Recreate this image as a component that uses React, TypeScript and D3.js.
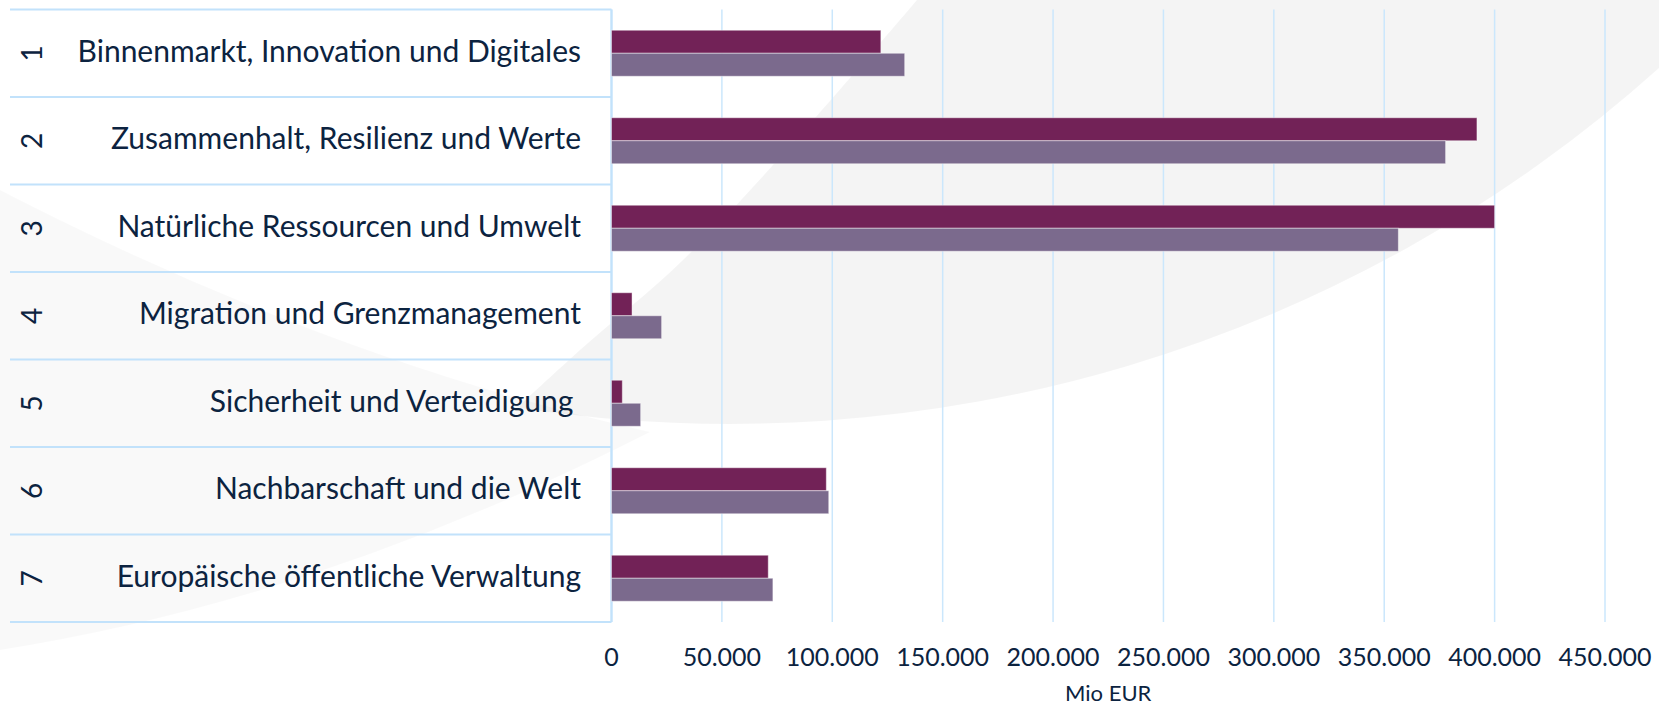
import React from "react";
import * as d3 from "d3";

// ---- data ----
const categories = [
  "Binnenmarkt, Innovation und Digitales",
  "Zusammenhalt, Resilienz und Werte",
  "Natürliche Ressourcen und Umwelt",
  "Migration und Grenzmanagement",
  "Sicherheit und Verteidigung ",
  "Nachbarschaft und die Welt",
  "Europäische öffentliche Verwaltung",
];
const headingNumbers = ["1", "2", "3", "4", "5", "6", "7"];
const seriesDark = [122000, 392000, 400000, 9300, 4900, 97300, 71000];
const seriesLight = [132800, 377800, 356400, 22700, 13200, 98400, 73100];
const xTicks = [0, 50000, 100000, 150000, 200000, 250000, 300000, 350000, 400000, 450000];
const xTickLabels = ["0", "50.000", "100.000", "150.000", "200.000", "250.000", "300.000", "350.000", "400.000", "450.000"];
const axisTitle = "Mio EUR";
const seriesKeys = ["dark", "light"];

// ---- layout / style ----
const W = 1659;
const H = 707;
const plotLeft = 611.5;
const plotRight = 1605;
const plotTop = 9.5;
const plotBottom = 622;
const tableLeft = 10;
const textColor = "#0c2340";
const lineColor = "#c2e2fb";
const gridColor = "#cbe7fc";
const colors: Record<string, string> = { dark: "#722257", light: "#7b6a8d" };
const FONT = "Lato, 'Noto Sans', sans-serif";

export default function App() {
  const x = d3.scaleLinear().domain([0, 450000]).range([plotLeft, plotRight]);
  const y = d3
    .scaleBand<string>()
    .domain(categories)
    .range([plotTop, plotBottom])
    .paddingInner(0.474)
    .paddingOuter(0.237);
  const yRow = d3.scaleBand<string>().domain(categories).range([plotTop, plotBottom]);
  const ySub = d3.scaleBand<string>().domain(seriesKeys).range([0, y.bandwidth()]);

  const rows = categories.map((c, i) => ({ c, i, vals: { dark: seriesDark[i], light: seriesLight[i] } as Record<string, number> }));

  // decorative background swooshes
  const swooshEdge = d3.line().curve(d3.curveCatmullRom)([
    [520, 405],
    [580, 350],
    [683, 260],
    [800, 135],
    [917, 0],
  ]) as string;
  const swooshA = `M917,0 L1659,0 L1659,68 A1390,1390 0 0 1 520,408 ` + swooshEdge.replace(/^M[^C]*/, "L520,405 ") + " Z";
  const swooshB = "M0,190 Q330,360 650,432 Q320,600 0,650 Z";

  return (
    <svg width={W} height={H} style={{ position: "absolute", left: 0, top: 0, background: "#fff" }} fontFamily={FONT}>
      <path d={swooshA} fill="#000" fillOpacity={0.045} />
      <path d={swooshB} fill="#000" fillOpacity={0.025} />

      {/* gridlines */}
      {xTicks.map((t) => (
        <line key={"g" + t} x1={x(t)} x2={x(t)} y1={plotTop} y2={plotBottom} stroke={gridColor} strokeWidth={t === 0 ? 2 : 1.5} />
      ))}

      {/* table lines */}
      {[...categories.map((c) => yRow(c) as number), plotBottom].map((yy, i) => (
        <line key={"h" + i} x1={tableLeft} x2={plotLeft} y1={yy} y2={yy} stroke={lineColor} strokeWidth={2} />
      ))}
      <line x1={plotLeft} x2={plotLeft} y1={plotTop} y2={plotBottom} stroke={lineColor} strokeWidth={2} />

      {/* bars */}
      {rows.map((r) =>
        seriesKeys.map((k) => (
          <rect
            key={r.c + k}
            x={x(0)}
            y={(y(r.c) as number) + (ySub(k) as number)}
            width={x(r.vals[k]) - x(0)}
            height={ySub.bandwidth()}
            fill={colors[k]}
            stroke="#ffffff"
            strokeOpacity={0.45}
            strokeWidth={1}
          />
        ))
      )}

      {/* row labels */}
      {rows.map((r) => {
        const cy = (yRow(r.c) as number) + yRow.bandwidth() / 2;
        return (
          <g key={"l" + r.c}>
            <text
              transform={`translate(42,${cy}) rotate(-90)`}
              textAnchor="middle"
              fontSize={28}
              fill={textColor}
            >
              {headingNumbers[r.i]}
            </text>
            <text x={581} y={cy + 8.5} textAnchor="end" fontSize={30} fill={textColor} style={{ whiteSpace: "pre" }}>
              {r.c}
            </text>
          </g>
        );
      })}

      {/* x tick labels */}
      {xTicks.map((t, i) => (
        <text key={"t" + t} x={x(t)} y={666} textAnchor="middle" fontSize={25} fill={textColor}>
          {xTickLabels[i]}
        </text>
      ))}
      <text x={(plotLeft + plotRight) / 2} y={701} textAnchor="middle" fontSize={22} fill={textColor}>
        {axisTitle}
      </text>
    </svg>
  );
}
